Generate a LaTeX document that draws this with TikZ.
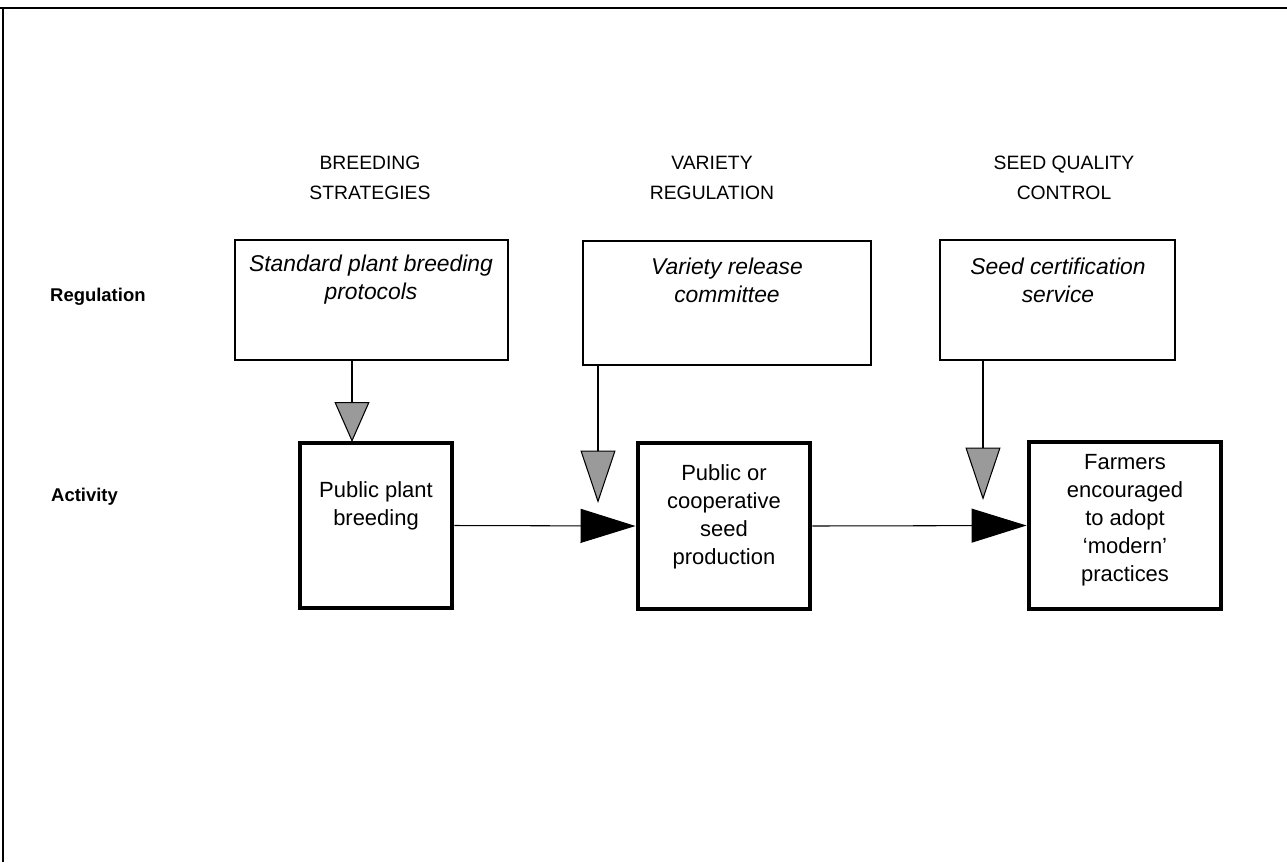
\documentclass[tikz,border=0pt]{standalone}
\usepackage{fontspec}
\setmainfont{Liberation Sans}
\usepackage{tikz}
\usetikzlibrary{arrows.meta,positioning,fit}
\definecolor{TipGrey}{HTML}{9A9A9A}

\begin{document}
\begin{tikzpicture}[x=0.2mm,y=-0.2mm,
		regbox/.style={draw,line width=0.8pt,inner sep=0pt},
		actbox/.style={draw,line width=2.8pt,inner sep=0pt},
		headtxt/.style={align=center,font=\fontsize{11}{17}\selectfont},
		sidetxt/.style={anchor=west,font=\fontsize{10.5}{14}\selectfont\bfseries},
		regtxt/.style={align=center,font=\fontsize{13}{16}\selectfont\itshape},
		acttxt/.style={align=center,font=\fontsize{12.5}{15.9}\selectfont},
		regarrow/.style={line width=0.6pt,-{Triangle[length=#1,width=7mm,fill=TipGrey]}},
		regarrow/.default=10.5mm,
		flowarrow/.style={line width=0.6pt,-{Triangle[length=11mm,width=6.8mm]}}]
		\useasboundingbox (0,0) rectangle (1287,862);
		\draw[line width=1.6pt] (0,8) -- (1287,8);
		\draw[line width=1.2pt] (3,8) -- (3,862);

		\node[headtxt] (hdr1) at (370,178) {BREEDING\\STRATEGIES};
		\node[headtxt] (hdr2) at (712,178) {VARIETY\\REGULATION};
		\node[headtxt] (hdr3) at (1064,178) {SEED QUALITY\\CONTROL};

		\node[sidetxt] (reglbl) at (44,297) {Regulation};
		\node[sidetxt] (actlbl) at (45,497) {Activity};

		\node[regbox,fit={(235,240) (508,360)}] (reg1) {};
		\node[regbox,fit={(583,241) (871,365)}] (reg2) {};
		\node[regbox,fit={(940,240) (1175,360)}] (reg3) {};
		\node[regtxt] (reg1txt) at (371,280) {Standard plant breeding\\protocols};
		\node[regtxt] (reg2txt) at (727,280) {Variety release\\committee};
		\node[regtxt] (reg3txt) at (1058,280) {Seed certification\\service};

		\node[actbox,fit={(300,443) (452,608)}] (act1) {};
		\node[actbox,fit={(638,443) (810,609)}] (act2) {};
		\node[actbox,fit={(1029,442) (1221,609)}] (act3) {};
		\node[acttxt] (act1txt) at (376,506) {Public plant\\breeding};
		\node[acttxt] (act2txt) at (724,517) {Public or\\cooperative\\seed\\production};
		\node[acttxt] (act3txt) at (1125,520) {Farmers\\encouraged\\to adopt\\`modern'\\practices};

		\coordinate (in1) at (352,442);
		\coordinate (tip2) at (598,503);
		\coordinate (tip3) at (983,500);
		\draw[regarrow=8mm] (in1 |- reg1.south) -- (in1);
		\draw[regarrow] (tip2 |- reg2.south) -- (tip2);
		\draw[regarrow] (tip3 |- reg3.south) -- (tip3);

		\draw[flowarrow] (act1.east) -- (act2.west);
		\draw[flowarrow] (act2.east) -- (act3.west);
	\end{tikzpicture}
\end{document}
